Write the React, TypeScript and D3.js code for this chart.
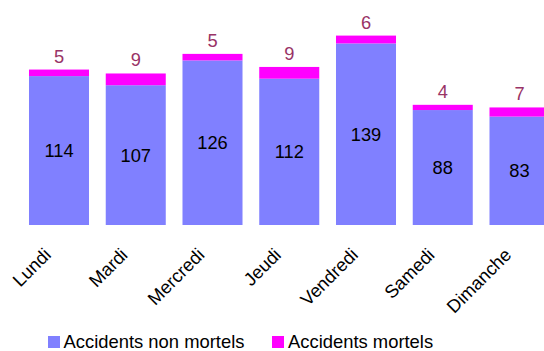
import React from "react";
import * as d3 from "d3";

const days = ["Lundi", "Mardi", "Mercredi", "Jeudi", "Vendredi", "Samedi", "Dimanche"];
const nonMortels = [114, 107, 126, 112, 139, 88, 83];
const mortels = [5, 9, 5, 9, 6, 4, 7];
const seriesNames = ["Accidents non mortels", "Accidents mortels"];
const seriesColors = ["#8080FF", "#FF00FF"];

const W = 544;
const H = 351;
const FONT = "'Liberation Sans', Arial, Helvetica, sans-serif";

export default function App() {
  const rows = days.map((d, i) => ({ day: d, nm: nonMortels[i], m: mortels[i] }));
  const stack = d3.stack<any>().keys(["nm", "m"]);
  const series = stack(rows);

  const x = d3
    .scaleBand<string>()
    .domain(days)
    .range([20.625, 557.875])
    .paddingInner(0.218)
    .paddingOuter(0.109);
  const y = d3.scaleLinear().domain([0, 160]).range([225, 16]);

  return (
    <svg
      width={W}
      height={H}
      style={{ position: "absolute", left: 0, top: 0, background: "#fff" }}
      fontFamily={FONT}
    >
      {series.map((s, si) => (
        <g key={si} fill={seriesColors[si]}>
          {s.map((d, i) => (
            <rect
              key={i}
              x={x(days[i])}
              y={y(d[1])}
              width={x.bandwidth()}
              height={y(d[0]) - y(d[1])}
            />
          ))}
        </g>
      ))}
      {series[0].map((d, i) => (
        <text
          key={"nm" + i}
          x={(x(days[i]) as number) + x.bandwidth() / 2}
          y={(y(d[0]) + y(d[1])) / 2}
          dy="0.35em"
          textAnchor="middle"
          fontSize={18.3}
          fill="#000"
        >
          {nonMortels[i]}
        </text>
      ))}
      {series[1].map((d, i) => (
        <text
          key={"m" + i}
          x={(x(days[i]) as number) + x.bandwidth() / 2}
          y={y(d[1]) - 7}
          textAnchor="middle"
          fontSize={18.3}
          fill="#993366"
        >
          {mortels[i]}
        </text>
      ))}
      {days.map((d, i) => {
        const cx = (x(d) as number) + x.bandwidth() / 2 - 7;
        const cy = 256;
        return (
          <text
            key={"lab" + i}
            transform={`translate(${cx},${cy}) rotate(-45)`}
            textAnchor="end"
            fontSize={18.3}
            fill="#000"
          >
            {d}
          </text>
        );
      })}
      <g>
        <rect x={48} y={336} width={12} height={12} fill={seriesColors[0]} />
        <text x={63.5} y={348} fontSize={18.4} fill="#000">
          {seriesNames[0]}
        </text>
        <rect x={272} y={336} width={12} height={12} fill={seriesColors[1]} />
        <text x={288} y={348} fontSize={18.4} fill="#000">
          {seriesNames[1]}
        </text>
      </g>
    </svg>
  );
}
